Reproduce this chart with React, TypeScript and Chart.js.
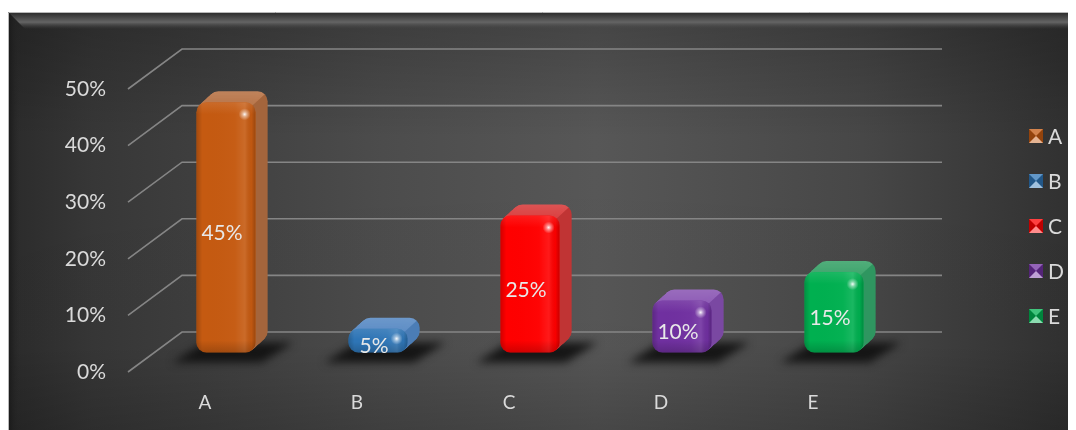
import React, { useEffect, useRef } from 'react';
import { Chart, registerables } from 'chart.js';

Chart.register(...registerables);

// ---- data ----
const categories = ['A', 'B', 'C', 'D', 'E'];
const values = [45, 5, 25, 10, 15];
const yTickValues = [0, 10, 20, 30, 40, 50];
const frontColors = ['#c55a11', '#2e75b6', '#ff0000', '#7030a0', '#00b050'];
const topColors = ['#b9764a', '#5d8dc5', '#d94040', '#8e5cb6', '#3ea56c'];
const sideColors = ['#a4653c', '#4b7db6', '#c03434', '#7a48a2', '#2f9660'];

// ---- style constants ----
const FONT = 'Lato, "Open Sans", sans-serif';
const TEXT = '#dadada';
const DX = 12;
const DY = 11;
const BACK = { dx: 32, dy: -25 };
const FRONT = { dx: -22, dy: 15 };

function roundRectPath(c: CanvasRenderingContext2D, x: number, y: number, w: number, h: number, r: number) {
  c.beginPath();
  (c as any).roundRect(x, y, w, h, r);
}

const decorPlugin = {
  id: 'decor3d',
  beforeDraw(chart: any) {
    const { ctx, width, height } = chart;
    ctx.save();
    const top = 4;
    const g = ctx.createLinearGradient(0, 0, width, 0);
    g.addColorStop(0, '#2b2b2b');
    g.addColorStop(0.08, '#373737');
    g.addColorStop(0.35, '#4c4c4c');
    g.addColorStop(0.55, '#575757');
    g.addColorStop(0.8, '#474747');
    g.addColorStop(1, '#303030');
    ctx.fillStyle = g;
    ctx.fillRect(0, top, width, height - top);
    const v = ctx.createLinearGradient(0, top, 0, height);
    v.addColorStop(0, 'rgba(0,0,0,0.22)');
    v.addColorStop(0.3, 'rgba(0,0,0,0)');
    v.addColorStop(0.8, 'rgba(0,0,0,0.02)');
    v.addColorStop(1, 'rgba(0,0,0,0.18)');
    ctx.fillStyle = v;
    ctx.fillRect(0, top, width, height - top);
    // top bevel
    const tb = ctx.createLinearGradient(0, top, 0, top + 17);
    tb.addColorStop(0, 'rgba(40,40,40,1)');
    tb.addColorStop(0.6, 'rgba(100,100,100,1)');
    tb.addColorStop(1, 'rgba(70,70,70,0)');
    ctx.fillStyle = tb;
    ctx.beginPath();
    ctx.moveTo(0, top);
    ctx.lineTo(width, top);
    ctx.lineTo(width, top + 17);
    ctx.lineTo(17, top + 17);
    ctx.closePath();
    ctx.fill();
    // left bevel
    const lb = ctx.createLinearGradient(0, 0, 12, 0);
    lb.addColorStop(0, 'rgba(25,25,25,1)');
    lb.addColorStop(1, 'rgba(40,40,40,0)');
    ctx.fillStyle = lb;
    ctx.beginPath();
    ctx.moveTo(0, top);
    ctx.lineTo(17, top + 17);
    ctx.lineTo(12, top + 17);
    ctx.lineTo(12, height);
    ctx.lineTo(0, height);
    ctx.closePath();
    ctx.fill();
    // border
    ctx.strokeStyle = '#b8b8b8';
    ctx.lineWidth = 1;
    ctx.beginPath();
    ctx.moveTo(0.5, height);
    ctx.lineTo(0.5, top + 0.5);
    ctx.lineTo(width, top + 0.5);
    ctx.stroke();
    ctx.restore();
  },
  beforeDatasetsDraw(chart: any) {
    const { ctx, chartArea } = chart;
    const ys = chart.scales.y;
    ctx.save();
    // 3D gridlines (back wall + side wall)
    ctx.strokeStyle = '#858585';
    ctx.lineWidth = 1.6;
    ys.ticks.forEach((t: any) => {
      const py = ys.getPixelForValue(t.value);
      ctx.beginPath();
      ctx.moveTo(chartArea.left + FRONT.dx, py + FRONT.dy);
      ctx.lineTo(chartArea.left + BACK.dx, py + BACK.dy);
      ctx.lineTo(chartArea.right + BACK.dx, py + BACK.dy);
      ctx.stroke();
    });
    const meta = chart.getDatasetMeta(0);
    // shadows
    ctx.save();
    ctx.filter = 'blur(4px)';
    ctx.fillStyle = 'rgba(16,16,16,0.92)';
    meta.data.forEach((bar: any) => {
      const { x, base, width } = bar.getProps(['x', 'base', 'width'], true);
      const l = x - width / 2;
      const r = x + width / 2;
      ctx.beginPath();
      ctx.moveTo(l - 24, base + 10);
      ctx.lineTo(r + 6, base + 10);
      ctx.lineTo(r + 38, base - 10);
      ctx.lineTo(l + 8, base - 10);
      ctx.closePath();
      ctx.fill();
    });
    ctx.restore();
    // extruded depth (top + side faces)
    const off = document.createElement('canvas');
    off.width = chart.width;
    off.height = chart.height;
    const o = off.getContext('2d') as CanvasRenderingContext2D;
    meta.data.forEach((bar: any, i: number) => {
      const { x, y, base, width } = bar.getProps(['x', 'y', 'base', 'width'], true);
      const l = x - width / 2;
      const rgt = x + width / 2;
      const h = base - y;
      const rad = Math.min(10, h / 2, width / 2);
      o.globalCompositeOperation = 'source-over';
      o.fillStyle = topColors[i];
      const steps = 14;
      for (let s = steps; s >= 1; s--) {
        const t = s / steps;
        roundRectPath(o, l + t * DX, y - t * DY, width, h, rad);
        o.fill();
      }
      o.globalCompositeOperation = 'source-atop';
      o.fillStyle = sideColors[i];
      const sx = rgt - rad * 0.3;
      const sy = y + rad * 0.3;
      o.beginPath();
      o.moveTo(sx, sy);
      o.lineTo(sx + 40, sy - (40 * DY) / DX);
      o.lineTo(rgt + 40, base + 20);
      o.lineTo(sx, base + 20);
      o.closePath();
      o.fill();
      // top face sheen
      const tg = o.createLinearGradient(0, y - DY, 0, y + 4);
      tg.addColorStop(0, 'rgba(255,255,255,0.10)');
      tg.addColorStop(1, 'rgba(255,255,255,0)');
      o.fillStyle = tg;
      o.beginPath();
      o.moveTo(l - 2, y + rad * 0.3);
      o.lineTo(sx, sy);
      o.lineTo(sx + 40, sy - (40 * DY) / DX);
      o.lineTo(l - 2, sy - 40);
      o.closePath();
      o.fill();
    });
    ctx.drawImage(off, 0, 0, chart.width, chart.height);
    ctx.restore();
  },
  afterDatasetsDraw(chart: any) {
    const { ctx } = chart;
    const meta = chart.getDatasetMeta(0);
    ctx.save();
    meta.data.forEach((bar: any, i: number) => {
      const { x, y, base, width } = bar.getProps(['x', 'y', 'base', 'width'], true);
      const l = x - width / 2;
      const rgt = x + width / 2;
      const h = base - y;
      const rad = Math.min(10, h / 2, width / 2);
      ctx.save();
      roundRectPath(ctx, l, y, width, h, rad);
      ctx.clip();
      const g = ctx.createLinearGradient(l, 0, rgt, 0);
      g.addColorStop(0, 'rgba(0,0,0,0.18)');
      g.addColorStop(0.1, 'rgba(0,0,0,0)');
      g.addColorStop(0.65, 'rgba(255,255,255,0.02)');
      g.addColorStop(0.82, 'rgba(255,255,255,0.10)');
      g.addColorStop(0.93, 'rgba(0,0,0,0.03)');
      g.addColorStop(1, 'rgba(0,0,0,0.22)');
      ctx.fillStyle = g;
      ctx.fillRect(l, y, width, h);
      const vg = ctx.createLinearGradient(0, y, 0, base);
      const k = Math.min(0.45, 12 / h);
      vg.addColorStop(0, 'rgba(255,255,255,0.10)');
      vg.addColorStop(k, 'rgba(255,255,255,0)');
      vg.addColorStop(1 - k, 'rgba(0,0,0,0)');
      vg.addColorStop(1, 'rgba(0,0,0,0.18)');
      ctx.fillStyle = vg;
      ctx.fillRect(l, y, width, h);
      // specular highlight
      const hx = rgt - 11;
      const hy = y + Math.min(12, h * 0.42);
      const rg = ctx.createRadialGradient(hx, hy, 0, hx, hy, 6);
      rg.addColorStop(0, 'rgba(255,255,255,0.95)');
      rg.addColorStop(0.4, 'rgba(255,255,255,0.45)');
      rg.addColorStop(1, 'rgba(255,255,255,0)');
      ctx.fillStyle = rg;
      ctx.fillRect(hx - 8, hy - 8, 16, 16);
      ctx.restore();
      // data label
      ctx.fillStyle = '#e8e8e8';
      ctx.font = `21px ${FONT}`;
      ctx.textAlign = 'center';
      ctx.textBaseline = 'middle';
      ctx.fillText(`${values[i]}%`, x - 4, (y + base) / 2 + 6);
    });
    // legend
    const lx = 1021;
    const ly0 = 128;
    const step = 45;
    categories.forEach((name, i) => {
      const cy = ly0 + i * step;
      const bx = lx;
      const by = cy - 7;
      const s = 14;
      ctx.fillStyle = frontColors[i];
      ctx.fillRect(bx, by, s, s);
      ctx.fillStyle = 'rgba(255,255,255,0.25)';
      ctx.beginPath();
      ctx.moveTo(bx, by);
      ctx.lineTo(bx + s, by);
      ctx.lineTo(bx + s / 2, by + s / 2);
      ctx.closePath();
      ctx.fill();
      ctx.fillStyle = 'rgba(0,0,0,0.25)';
      ctx.beginPath();
      ctx.moveTo(bx, by);
      ctx.lineTo(bx + s / 2, by + s / 2);
      ctx.lineTo(bx, by + s);
      ctx.closePath();
      ctx.fill();
      ctx.beginPath();
      ctx.moveTo(bx + s, by);
      ctx.lineTo(bx + s / 2, by + s / 2);
      ctx.lineTo(bx + s, by + s);
      ctx.closePath();
      ctx.fill();
      ctx.fillStyle = 'rgba(255,255,255,0.55)';
      ctx.beginPath();
      ctx.moveTo(bx, by + s);
      ctx.lineTo(bx + s / 2, by + s / 2);
      ctx.lineTo(bx + s, by + s);
      ctx.closePath();
      ctx.fill();
      ctx.fillStyle = TEXT;
      ctx.font = `21px ${FONT}`;
      ctx.textAlign = 'left';
      ctx.textBaseline = 'middle';
      ctx.fillText(name, lx + 19, cy + 1);
    });
    ctx.restore();
  },
};

export default function App() {
  const ref = useRef<HTMLCanvasElement | null>(null);
  useEffect(() => {
    if (!ref.current) return;
    const chart = new Chart(ref.current, {
      type: 'bar',
      data: {
        labels: categories,
        datasets: [
          {
            label: 'Share',
            data: values,
            base: 0.8,
            backgroundColor: frontColors,
            borderRadius: 10,
            borderSkipped: false,
            barPercentage: 0.39,
            categoryPercentage: 1,
          },
        ],
      },
      options: {
        responsive: false,
        animation: false,
        events: [],
        layout: { padding: { top: 66, bottom: 0, left: 0, right: 166 } },
        plugins: { legend: { display: false }, tooltip: { enabled: false } },
        scales: {
          x: {
            grid: { display: false, drawTicks: false },
            border: { display: false },
            ticks: {
              color: TEXT,
              font: { family: FONT, size: 19 },
              padding: 34,
              labelOffset: -21,
              maxRotation: 0,
            },
            afterFit: (s: any) => {
              s.height = 73;
            },
          },
          y: {
            min: 0,
            max: 50,
            grid: { display: false, drawTicks: false },
            border: { display: false },
            afterBuildTicks: (s: any) => {
              s.ticks = yTickValues.map((v) => ({ value: v }));
            },
            ticks: {
              color: TEXT,
              font: { family: FONT, size: 21 },
              padding: 44,
              labelOffset: 15,
              callback: (v: any) => `${v}%`,
            },
            afterFit: (s: any) => {
              s.width = 142;
            },
          },
        },
      },
      plugins: [decorPlugin],
    });
    return () => chart.destroy();
  }, []);
  return (
    <div style={{ width: 1068, height: 422 }}>
      <canvas ref={ref} width={1068} height={422} style={{ display: 'block' }} />
    </div>
  );
}
